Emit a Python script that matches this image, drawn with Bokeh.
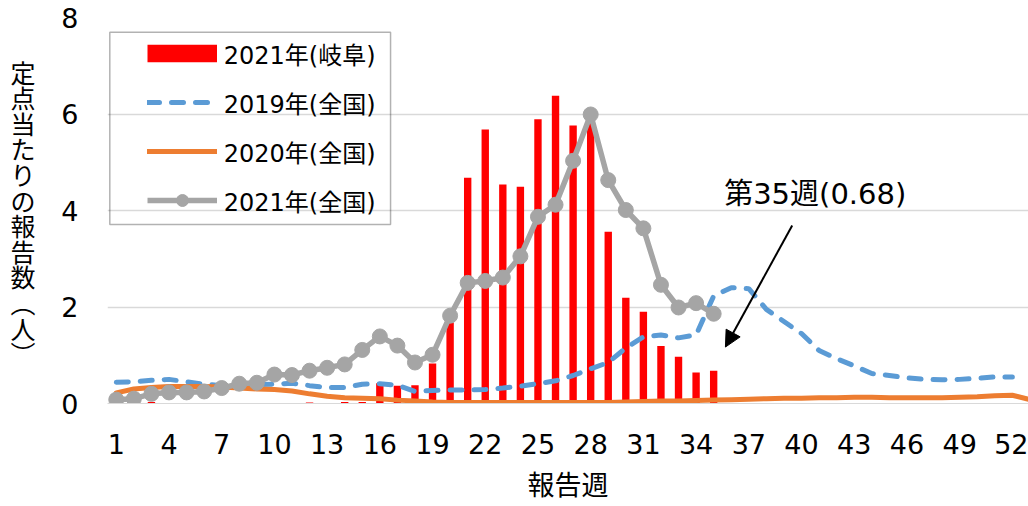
from bokeh.plotting import figure
from bokeh.models import (FixedTicker, Legend, LegendItem, Label, Arrow,
                          NormalHead, BoxAnnotation, Range1d, LinearAxis)
from bokeh.embed import file_html
from bokeh.resources import INLINE

# ---------------- data ----------------
weeks_gifu_2021 = list(range(1, 36))
gifu_2021 = [0, 0, 0.03, 0, 0, 0, 0, 0, 0, 0, 0, 0.02, 0, 0.03, 0.03,
             0.42, 0.37, 0.38, 0.83, 1.68, 4.68, 5.68, 4.54, 4.49, 5.89,
             6.38, 5.76, 5.95, 3.56, 2.19, 1.90, 1.19, 0.97, 0.64, 0.68]

weeks_2019 = list(range(1, 53))
national_2019 = [0.44, 0.45, 0.48, 0.50, 0.45, 0.40, 0.37, 0.38, 0.39, 0.40,
                 0.42, 0.37, 0.33, 0.33, 0.40, 0.41, 0.38, 0.25, 0.27, 0.28,
                 0.28, 0.29, 0.32, 0.36, 0.41, 0.47, 0.58, 0.72, 0.85, 1.15,
                 1.38, 1.42, 1.36, 1.42, 2.23, 2.40, 2.38, 1.95, 1.70, 1.45,
                 1.10, 0.93, 0.78, 0.62, 0.58, 0.53, 0.50, 0.49, 0.50, 0.52,
                 0.55, 0.55]

weeks_2020 = list(range(1, 54))
national_2020 = [0.22, 0.30, 0.33, 0.35, 0.35, 0.35, 0.34, 0.32, 0.30, 0.29,
                 0.26, 0.20, 0.15, 0.12, 0.11, 0.10, 0.07, 0.05, 0.03, 0.02,
                 0.02, 0.02, 0.02, 0.02, 0.02, 0.02, 0.02, 0.02, 0.02, 0.03,
                 0.04, 0.05, 0.05, 0.06, 0.07, 0.08, 0.09, 0.10, 0.11, 0.11,
                 0.12, 0.12, 0.13, 0.13, 0.12, 0.12, 0.12, 0.12, 0.13, 0.14,
                 0.16, 0.17, 0.08]

weeks_2021 = list(range(1, 36))
national_2021 = [0.08, 0.10, 0.20, 0.23, 0.23, 0.25, 0.32, 0.41, 0.43, 0.60,
                 0.59, 0.68, 0.74, 0.81, 1.11, 1.39, 1.20, 0.85, 1.01, 1.82,
                 2.50, 2.54, 2.61, 3.05, 3.87, 4.12, 5.03, 5.99, 4.63, 4.01,
                 3.63, 2.46, 1.99, 2.08, 1.86]

x_ticks = list(range(1, 53, 3))
y_ticks = [0, 2, 4, 6, 8]

legend_labels = ["2021年(岐阜)", "2019年(全国)", "2020年(全国)", "2021年(全国)"]
x_title = "報告週"
y_title = "定点当たりの報告数︵人︶"
note_text = "第35週(0.68)"

# ---------------- styling ----------------
RED = "#FF0000"
BLUE = "#5B9BD5"
ORANGE = "#ED7D31"
GRAY = "#A5A5A5"
GRID = "#D9D9D9"
FONT = "DejaVu Sans, Noto Sans CJK JP"
CJK = "Noto Sans CJK JP"

PX_X = 17.57  # pixels per week
p = figure(width=1028, height=506, output_backend="svg", toolbar_location=None,
           x_range=Range1d(0.5, 0.5 + 921 / PX_X), y_range=Range1d(0, 8),
           min_border_left=107, min_border_right=0, min_border_top=17,
           min_border_bottom=103)
p.outline_line_color = None
p.background_fill_color = "white"
p.border_fill_color = "white"

# bars
p.vbar(x=weeks_gifu_2021, top=gifu_2021, width=0.42, fill_color=RED,
       line_color=None)
# lines
r19 = p.line(weeks_2019, national_2019, line_color=BLUE, line_width=5,
             line_dash="12 12", line_cap="round")
r20 = p.line(weeks_2020, national_2020, line_color=ORANGE, line_width=5,
             line_cap="round", line_join="round")
r21 = p.line(weeks_2021, national_2021, line_color=GRAY, line_width=5.5,
             line_join="round")
r21m = p.scatter(weeks_2021, national_2021, size=15, marker="circle",
                 fill_color=GRAY, line_color=GRAY)
# legend key for the bars (a single point: draws nothing in the plot)
bar_key = p.line(x=[float("nan")], y=[float("nan")], line_color=RED,
                 line_width=17.6, line_cap="butt")

# axes
p.xaxis.ticker = FixedTicker(ticks=x_ticks)
p.yaxis.ticker = FixedTicker(ticks=y_ticks)
for ax in (p.xaxis[0], p.yaxis[0]):
    ax.major_tick_line_color = None
    ax.minor_tick_line_color = None
    ax.major_tick_out = 0
    ax.minor_tick_out = 0
    ax.major_label_text_font = FONT
    ax.major_label_text_font_size = "27px"
    ax.major_label_text_color = "#000000"
p.xaxis.axis_line_color = GRID
p.yaxis.axis_line_color = None
p.xaxis.major_label_standoff = 30
p.yaxis.major_label_standoff = 29

p.xaxis.axis_label = x_title
p.xaxis.axis_label_text_font = CJK
p.xaxis.axis_label_text_font_size = "27px"
p.xaxis.axis_label_text_font_style = "normal"
p.xaxis.axis_label_text_color = "#000000"
p.xaxis.axis_label_standoff = 7

# y title written vertically (upright characters stacked top to bottom)
n = len(y_title)
y_title_pos = [round(3.96 + ((n - 1) / 2 - i) * 25.6 / 48.25, 3) for i in range(n)]
title_axis = LinearAxis(ticker=FixedTicker(ticks=y_title_pos),
                        major_label_overrides={pos: ch for pos, ch in zip(y_title_pos, y_title)},
                        major_tick_line_color=None, minor_tick_line_color=None,
                        major_tick_out=0, minor_tick_out=0,
                        axis_line_color=None, major_label_standoff=23,
                        major_label_text_font=CJK,
                        major_label_text_font_size="25px",
                        major_label_text_color="#000000")
p.add_layout(title_axis, "left")

p.xgrid.visible = False
p.ygrid.grid_line_color = GRID
p.ygrid.grid_line_width = 1.3

# legend
legend = Legend(items=[
    LegendItem(label=legend_labels[0], renderers=[bar_key]),
    LegendItem(label=legend_labels[1], renderers=[r19]),
    LegendItem(label=legend_labels[2], renderers=[r20]),
    LegendItem(label=legend_labels[3], renderers=[r21, r21m]),
], location=(39.7, 185.5), border_line_color=None, background_fill_alpha=0,
   padding=0, margin=0, spacing=14, glyph_width=70, glyph_height=30,
   label_height=30, label_standoff=7, label_text_font=FONT,
   label_text_font_size="24px", label_text_color="#000000")
p.add_layout(legend)
p.add_layout(BoxAnnotation(left=0.631, right=16.61, top=7.695, bottom=3.71,
                           fill_alpha=0, line_color="black", line_width=1.5))

# annotation for week 35
p.add_layout(Label(x=40.78, y=4.35, text=note_text, text_font=FONT,
                   text_font_size="29px", text_align="center",
                   text_baseline="middle", text_color="#000000"))
p.add_layout(Arrow(end=NormalHead(size=16, fill_color="black",
                                  line_color="black"),
                   x_start=39.47, y_start=3.69, x_end=35.67, y_end=1.17,
                   line_width=2, line_color="black"))

open("out.html", "w").write(file_html(p, INLINE))
